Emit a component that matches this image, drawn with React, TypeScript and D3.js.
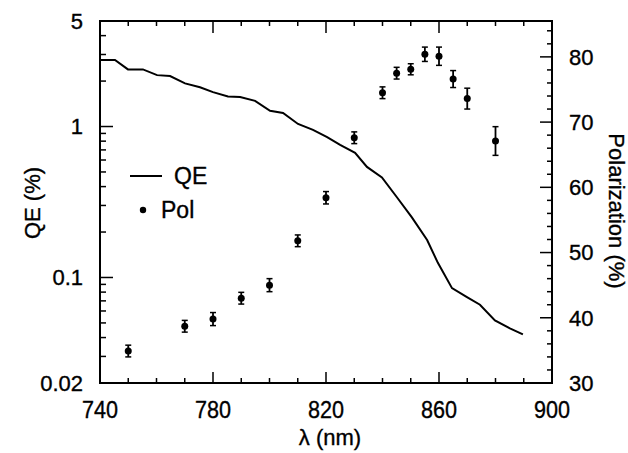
import React from "react";
import * as d3 from "d3";

const qeWavelength = [740, 745.3, 749.9, 755.2, 760.2, 764.8, 770.1, 775.4, 780, 785.3, 789.6, 794.9, 800.2, 804.8, 810.1, 815.4, 820.4, 825, 830.3, 834.5, 839.8, 845.1, 850.4, 855.8, 859.6, 864.6, 869.9, 874.5, 879.8, 885.1, 889.7];
const qeValues = [2.76, 2.76, 2.39, 2.39, 2.19, 2.16, 1.93, 1.82, 1.69, 1.58, 1.57, 1.48, 1.27, 1.23, 1.04, 0.95, 0.85, 0.755, 0.67, 0.54, 0.46, 0.34, 0.25, 0.177, 0.125, 0.085, 0.074, 0.066, 0.052, 0.046, 0.042];

const polWavelength = [750, 770, 780, 790, 800, 810, 820, 830, 840, 845, 850, 855, 860, 865, 870, 880];
const polValues = [34.9, 38.7, 39.8, 43.0, 45.0, 51.8, 58.4, 67.6, 74.5, 77.5, 78.1, 80.4, 80.1, 76.6, 73.6, 67.1];
const polErrors = [0.9, 0.9, 1.0, 0.9, 1.0, 0.9, 0.95, 0.9, 0.9, 0.9, 0.85, 1.1, 1.4, 1.3, 1.6, 2.2];

const xTickLabels = [740, 780, 820, 860, 900];
const leftTickLabels = [0.02, 0.1, 1, 5];
const rightTickLabels = [30, 40, 50, 60, 70, 80];

const W = 628, H = 453;
const M = { left: 100, right: 552, top: 21, bottom: 383 };
const FONT = "'Liberation Sans', Arial, Helvetica, sans-serif";
const TXT = { stroke: "#000", strokeWidth: 0.35 } as const;

export default function App() {
  const x = d3.scaleLinear().domain([740, 900]).range([M.left, M.right]);
  const yL = d3.scaleLog().domain([0.02, 5]).range([M.bottom, M.top]);
  const yR = d3.scaleLinear().domain([30, 85.5]).range([M.bottom, M.top]);

  const qeLine = d3.line<number>()
    .x((_, i) => x(qeWavelength[i]))
    .y((d) => yL(d))
    .curve(d3.curveLinear);

  const xMinor = d3.range(740, 901, 10);
  const leftMinor: number[] = [];
  [0.01, 0.1, 1].forEach((dec) => {
    for (let k = 2; k <= 9; k++) {
      const v = dec * k;
      if (v > 0.02 && v < 5) leftMinor.push(v);
    }
  });
  const rightMinor = d3.range(30, 86, 2);

  const stroke = "#000";
  return (
    <svg width={W} height={H} style={{ position: "absolute", left: 0, top: 0, background: "#fff" }} fontFamily={FONT}>
      <rect x={0} y={0} width={W} height={H} fill="#fff" />
      {/* x ticks bottom & top */}
      {xMinor.map((v) => {
        const major = xTickLabels.includes(v);
        return (
          <g key={"x" + v}>
            <line x1={x(v)} x2={x(v)} y1={M.bottom} y2={M.bottom - (major ? 11 : 5)} stroke={stroke} strokeWidth={1.5} />
            <line x1={x(v)} x2={x(v)} y1={M.top} y2={M.top + (major ? 12 : 5)} stroke={stroke} strokeWidth={1.5} />
          </g>
        );
      })}
      {xTickLabels.map((v) => (
        <text key={"xl" + v} transform={`translate(${x(v)},418) scale(0.9,1)`} textAnchor="middle" fontSize={24} {...TXT}>{v}</text>
      ))}
      {/* left ticks */}
      {leftTickLabels.map((v) => (
        <line key={"lM" + v} x1={M.left} x2={M.left + 13} y1={yL(v)} y2={yL(v)} stroke={stroke} strokeWidth={1.5} />
      ))}
      {leftMinor.map((v) => (
        <line key={"lm" + v} x1={M.left} x2={M.left + 6} y1={yL(v)} y2={yL(v)} stroke={stroke} strokeWidth={1.5} />
      ))}
      {leftTickLabels.map((v) => (
        <text key={"ll" + v} x={83} y={yL(v)} dy="0.36em" textAnchor="end" fontSize={22} {...TXT}>{String(v)}</text>
      ))}
      {/* right ticks */}
      {rightMinor.map((v) => {
        const major = rightTickLabels.includes(v);
        return <line key={"r" + v} x1={M.right} x2={M.right - (major ? 12 : 5)} y1={yR(v)} y2={yR(v)} stroke={stroke} strokeWidth={1.5} />;
      })}
      {rightTickLabels.map((v) => (
        <text key={"rl" + v} x={569} y={yR(v)} dy="0.36em" textAnchor="start" fontSize={22} {...TXT}>{v}</text>
      ))}
      {/* frame */}
      <rect x={M.left} y={M.top} width={M.right - M.left} height={M.bottom - M.top} fill="none" stroke={stroke} strokeWidth={2} />
      {/* QE line */}
      <path d={qeLine(qeValues) || ""} fill="none" stroke={stroke} strokeWidth={2} />
      {/* Pol points */}
      {polValues.map((v, i) => {
        const cx = x(polWavelength[i]);
        const y1 = yR(v + polErrors[i]);
        const y2 = yR(v - polErrors[i]);
        return (
          <g key={"p" + i}>
            <line x1={cx} x2={cx} y1={y1} y2={y2} stroke={stroke} strokeWidth={1.8} />
            <line x1={cx - 3} x2={cx + 3} y1={y1} y2={y1} stroke={stroke} strokeWidth={1.5} />
            <line x1={cx - 3} x2={cx + 3} y1={y2} y2={y2} stroke={stroke} strokeWidth={1.5} />
            <circle cx={cx} cy={yR(v)} r={3.5} fill={stroke} />
          </g>
        );
      })}
      {/* legend */}
      <line x1={130} x2={162} y1={176} y2={176} stroke={stroke} strokeWidth={2} />
      <text x={174} y={176} dy="0.36em" fontSize={23} {...TXT}>QE</text>
      <circle cx={143} cy={210} r={3.2} fill={stroke} />
      <text x={161} y={210} dy="0.36em" fontSize={23} {...TXT}>Pol</text>
      {/* axis titles */}
      <text x={330} y={437} dy="0.36em" textAnchor="middle" fontSize={22} {...TXT}>λ (nm)</text>
      <text transform={`translate(32,203) rotate(-90)`} textAnchor="middle" dy="0.36em" fontSize={22} {...TXT}>QE (%)</text>
      <text transform={`translate(617,211) rotate(90)`} textAnchor="middle" dy="0.36em" fontSize={22} {...TXT}>Polarization (%)</text>
    </svg>
  );
}
